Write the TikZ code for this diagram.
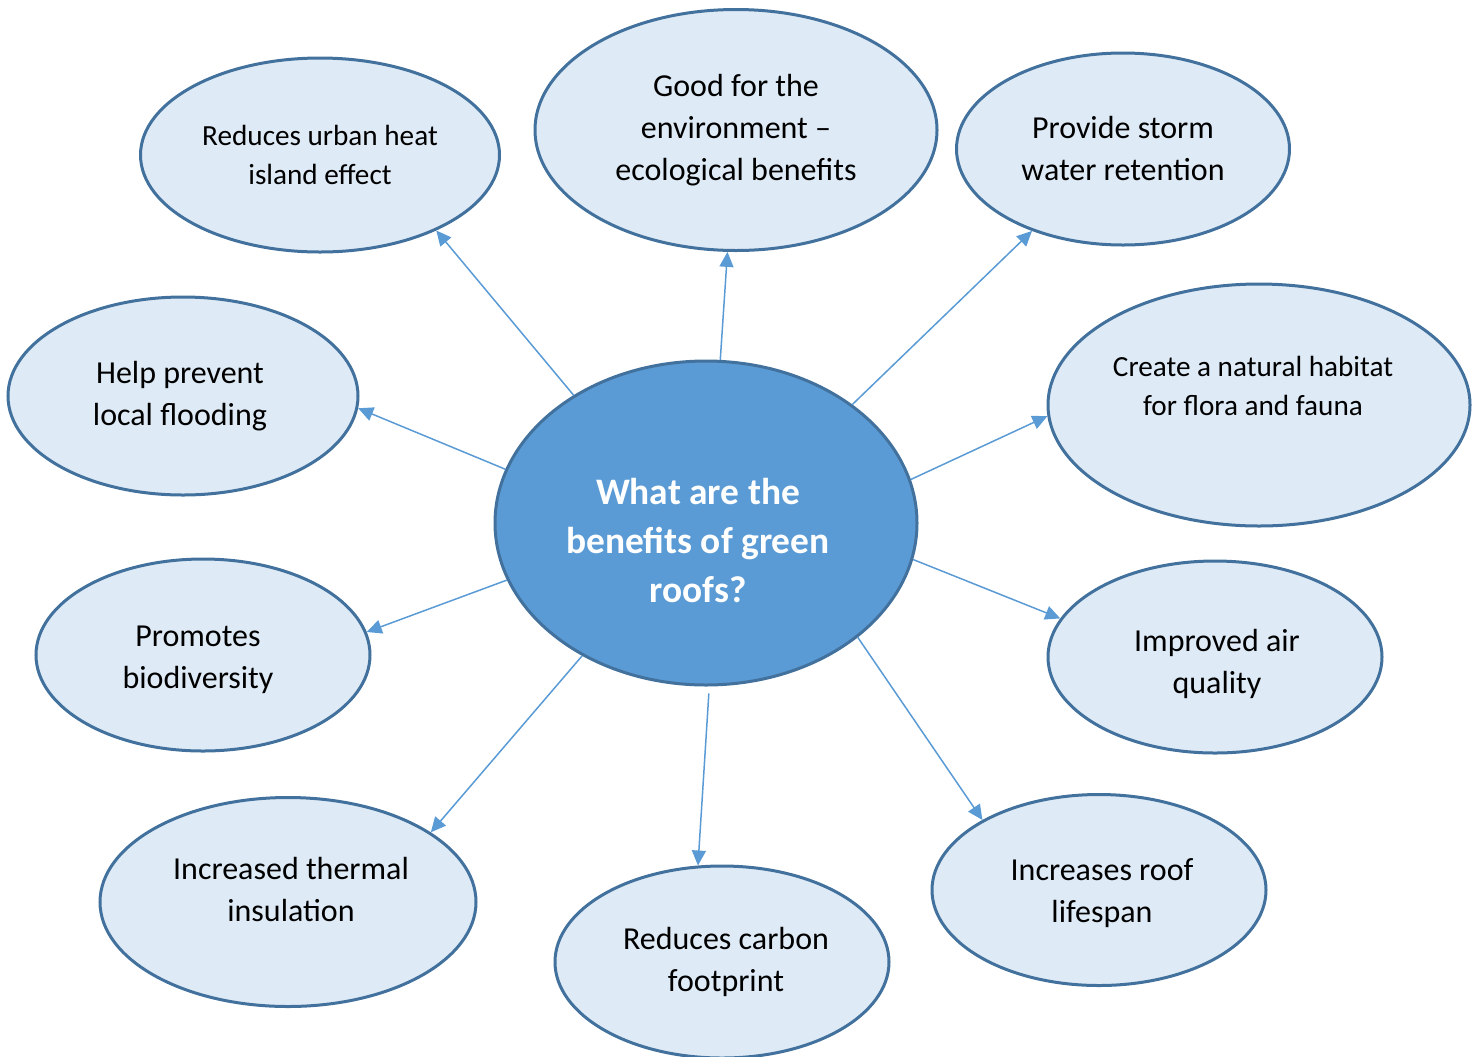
\documentclass[tikz,border=0pt]{standalone}
\usepackage{fontspec}
\setmainfont{Carlito}
\usetikzlibrary{shapes.geometric,arrows.meta}
\definecolor{bubblefill}{HTML}{DEEAF6}
\definecolor{bubbleline}{HTML}{41719C}
\definecolor{hubfill}{HTML}{5B9BD5}

\begin{document}
\begin{tikzpicture}[
		x=0.5pt, y=-0.5pt,
		ar/.style={-{Triangle[length=7.5pt,width=7pt]}, draw=hubfill, fill=hubfill, line width=0.75pt},
		bubble/.style={ellipse, draw=bubbleline, fill=bubblefill, line width=1.5pt, inner sep=0pt, align=center, font=\fontsize{16}{21}\selectfont},
		smalltext/.style={align=center, font=\fontsize{14.6}{19.5}\selectfont},
		hubtext/.style={align=center, text=white, font=\fontsize{18.7}{24.5}\selectfont\bfseries}
	]
		\useasboundingbox (0,0) rectangle (1478,1056);
		\clip (0,0) rectangle (1478,1056);
		% outer bubbles
		\node[bubble, minimum width=179.5pt, minimum height=97pt, font=\fontsize{14.6}{19.5}\selectfont] (urban) at (320,155) {Reduces urban heat\\island effect};
		\node[bubble, minimum width=201pt, minimum height=120.5pt] (env) at (736,130) {Good for the\\environment --\\ecological benefits};
		\node[bubble, minimum width=166.5pt, minimum height=96pt] (storm) at (1123,149) {Provide storm\\water retention};
		\node[bubble, minimum width=175pt, minimum height=99pt] (help) at (183,396) {};
		\node[bubble, draw=none, fill=none] (help-t) at (180,396) {Help prevent\\local flooding};
		\node[bubble, minimum width=211pt, minimum height=121pt] (habitat) at (1259,405) {};
		\node[smalltext] (habitat-t) at (1253,386) {Create a natural habitat\\for flora and fauna};
		\node[bubble, minimum width=167pt, minimum height=96pt] (promo) at (203,655) {};
		\node[bubble, draw=none, fill=none] (promo-t) at (198,660) {Promotes\\biodiversity};
		\node[bubble, minimum width=167pt, minimum height=96pt] (air) at (1215,657) {};
		\node[bubble, draw=none, fill=none] (air-t) at (1217,664) {Improved air\\quality};
		\node[bubble, minimum width=188pt, minimum height=104.5pt] (thermal) at (288,902) {};
		\node[bubble, draw=none, fill=none] (thermal-t) at (291,889) {Increased thermal\\insulation};
		\node[bubble, minimum width=167pt, minimum height=96pt] (carbon) at (722,962) {};
		\node[bubble, draw=none, fill=none] (carbon-t) at (726,962) {Reduces carbon\\footprint};
		\node[bubble, minimum width=167pt, minimum height=95.5pt] (roof) at (1099,890) {};
		\node[bubble, draw=none, fill=none] (roof-t) at (1102,893) {Increases roof\\lifespan};
		% centre
		\node[bubble, fill=hubfill, minimum width=211pt, minimum height=162pt] (hub) at (706,523) {};
		\node[hubtext] (hub-t) at (698,541) {What are the\\benefits of green\\roofs?};
		% arrows
		\draw[ar] (hub.136) -- (urban.-33);
		\draw[ar] (hub.85.4) -- (env.-94);
		\draw[ar] (hub.39.8) -- (storm.222);
		\draw[ar] (hub.165.5) -- (help.-4.6);
		\draw[ar] (hub.12.7) -- (habitat.183.6);
		\draw[ar] (hub.196.5) -- (promo.8.7);
		\draw[ar] (hub.-10.2) -- (air.166);
		\draw[ar] (hub.227.2) -- (thermal.26.7);
		\draw[ar] ([yshift=-3.5pt]hub.-89.3) -- (carbon.104.3);
		\draw[ar] (hub.-37.7) -- (roof.149);
	\end{tikzpicture}
\end{document}
